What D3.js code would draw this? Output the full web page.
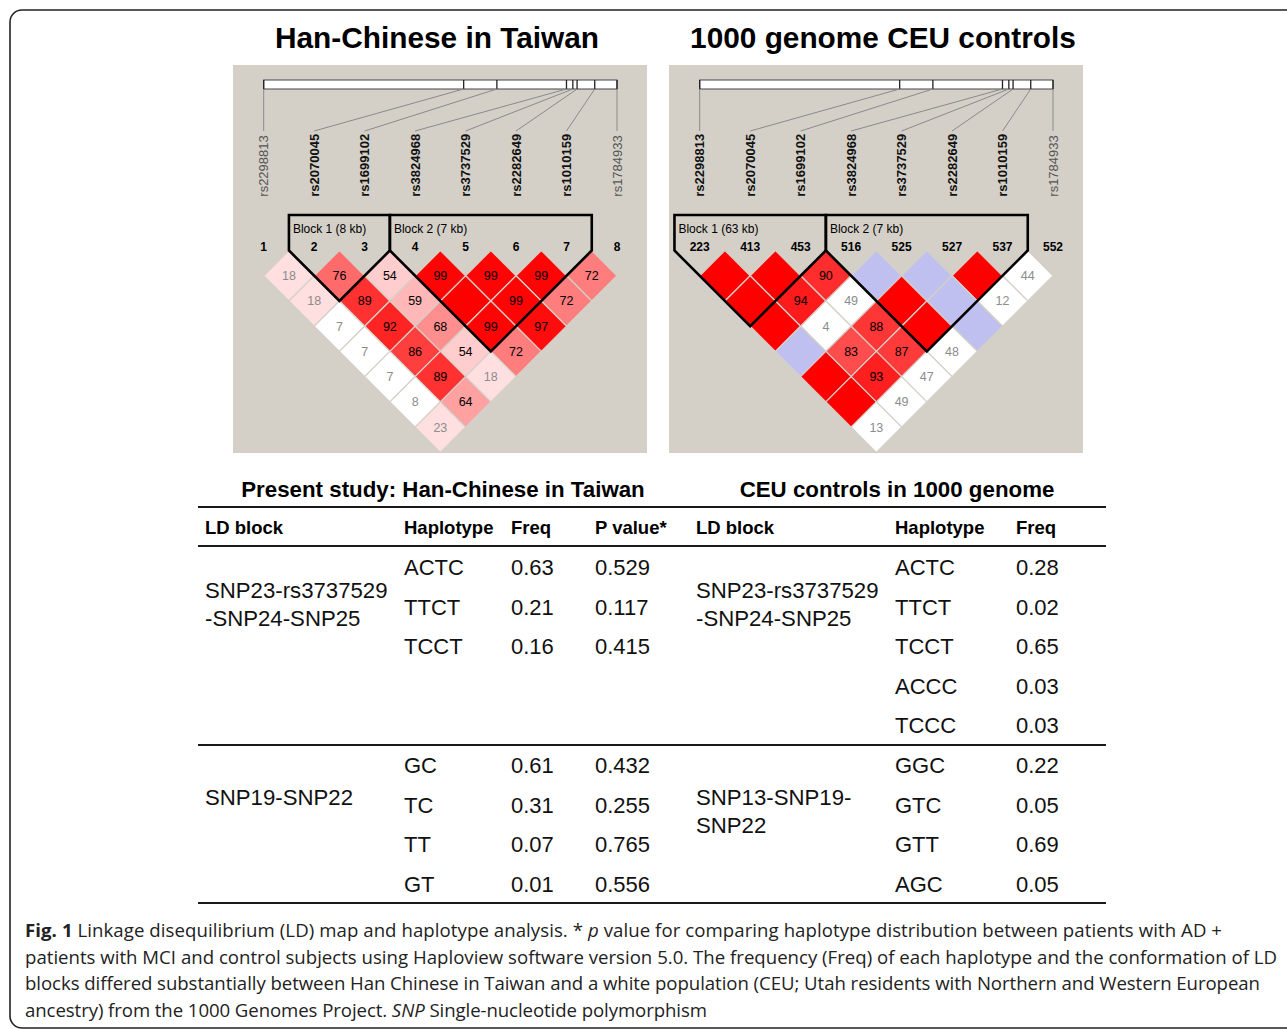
<!DOCTYPE html>
<html>
<head>
<meta charset="utf-8">
<script src="https://d3js.org/d3.v7.min.js"></script>
<style>
  body { margin: 0; background: #fff; }
  svg { display: block; }
</style>
</head>
<body>
<div class="chart"></div>
<script>
var svgWidth = 1287;
var svgHeight = 1029;

// SNP names (same 8 markers in both maps)
var snpNames = ["rs2298813", "rs2070045", "rs1699102", "rs3824968", "rs3737529", "rs2282649", "rs1010159", "rs1784933"];
// relative physical position of each SNP along the gene bar (%)
var snpPositions = [0, 56.6, 66.0, 85.7, 87.5, 88.7, 93.7, 100];

var hanMarkerLabels = ["1", "2", "3", "4", "5", "6", "7", "8"];
var ceuMarkerLabels = ["223", "413", "453", "516", "525", "527", "537", "552"];
var hanBoldSnp = [0, 1, 1, 1, 1, 1, 1, 0];
var ceuBoldSnp = [1, 1, 1, 1, 1, 1, 1, 0];

// D' x 100 for pairs (i, i+d), one row per distance d = 1..7 (100 = D' of 1, no number shown)
var hanDprime = [
  [18, 76, 54, 99, 99, 99, 72],
  [18, 89, 59, 100, 99, 72],
  [7, 92, 68, 99, 97],
  [7, 86, 54, 72],
  [7, 89, 18],
  [8, 64],
  [23]
];
// LOD >= 2 ?
var hanStrong = [
  [1, 1, 1, 1, 1, 1, 1],
  [1, 1, 1, 1, 1, 1],
  [0, 1, 1, 1, 1],
  [0, 1, 1, 1],
  [0, 1, 1],
  [0, 1],
  [1]
];
var ceuDprime = [
  [100, 100, 90, 100, 100, 100, 44],
  [100, 94, 49, 100, 100, 12],
  [100, 4, 88, 100, 100],
  [100, 83, 87, 48],
  [100, 93, 47],
  [100, 49],
  [13]
];
var ceuStrong = [
  [1, 1, 1, 0, 0, 1, 0],
  [1, 1, 0, 1, 0, 0],
  [1, 0, 1, 1, 0],
  [0, 1, 1, 0],
  [1, 1, 0],
  [1, 0],
  [0]
];

var hanBlocks = [[1, 2, "Block 1 (8 kb)"], [3, 6, "Block 2 (7 kb)"]];
var ceuBlocks = [[0, 2, "Block 1 (63 kb)"], [3, 6, "Block 2 (7 kb)"]];

// haplotype tables
var hanBlockNames = [["SNP23-rs3737529", "-SNP24-SNP25"], ["SNP19-SNP22"]];
var hanHaplotypes = [["ACTC", "TTCT", "TCCT"], ["GC", "TC", "TT", "GT"]];
var hanFreq = [["0.63", "0.21", "0.16"], ["0.61", "0.31", "0.07", "0.01"]];
var hanPvalue = [["0.529", "0.117", "0.415"], ["0.432", "0.255", "0.765", "0.556"]];

var ceuBlockNames = [["SNP23-rs3737529", "-SNP24-SNP25"], ["SNP13-SNP19-", "SNP22"]];
var ceuHaplotypes = [["ACTC", "TTCT", "TCCT", "ACCC", "TCCC"], ["GGC", "GTC", "GTT", "AGC"]];
var ceuFreq = [["0.28", "0.02", "0.65", "0.03", "0.03"], ["0.22", "0.05", "0.69", "0.05"]];

var captionLines = [
  [["Fig. 1", "b"], [" Linkage disequilibrium (LD) map and haplotype analysis. * ", ""], ["p", "i"], [" value for comparing haplotype distribution between patients with AD +", ""]],
  [["patients with MCI and control subjects using Haploview software version 5.0. The frequency (Freq) of each haplotype and the conformation of LD", ""]],
  [["blocks differed substantially between Han Chinese in Taiwan and a white population (CEU; Utah residents with Northern and Western European", ""]],
  [["ancestry) from the 1000 Genomes Project. ", ""], ["SNP", "i"], [" Single-nucleotide polymorphism", ""]]
];
var captionWidths = [1197, 1252, 1235, 682];

var svg = d3.select(".chart")
  .append("svg")
  .attr("width", svgWidth)
  .attr("height", svgHeight);

// figure frame
svg.append("rect")
  .attr("x", 10)
  .attr("y", 10)
  .attr("width", 1320)
  .attr("height", 1018)
  .attr("rx", 12)
  .attr("fill", "none")
  .attr("stroke", "#222")
  .attr("stroke-width", 1.6);

var bg = "#d4d0c8";
var fillScale = d3.scaleLinear()
  .domain([0.5, 1])
  .range(["#ffdfdf", "#ff0000"])
  .clamp(true);

// draws one Haploview-like LD plot
function drawLD(x0, title, titleX, markerLabels, boldSnp, dprime, strong, blocks) {
  svg.append("text")
    .attr("x", titleX)
    .attr("y", 48)
    .attr("text-anchor", "middle")
    .attr("font-family", "Liberation Sans, Arial, sans-serif")
    .attr("font-weight", "bold")
    .attr("font-size", "29.8px")
    .text(title);

  var g = svg.append("g").attr("transform", `translate(${x0}, 65)`);

  g.append("rect")
    .attr("width", 414)
    .attr("height", 388)
    .attr("fill", bg);

  var xMarker = d3.scalePoint()
    .domain(d3.range(markerLabels.length))
    .range([30.7, 384]);
  var h = xMarker.step() / 2;
  var xPhys = d3.scaleLinear()
    .domain([0, 100])
    .range([30.7, 384]);

  // gene bar
  g.append("rect")
    .attr("x", xPhys(0))
    .attr("y", 15)
    .attr("width", xPhys(100) - xPhys(0))
    .attr("height", 9)
    .attr("fill", "#fff")
    .attr("stroke", "#444")
    .attr("stroke-width", 1);

  g.selectAll(".tick-mark")
    .data(snpPositions)
    .enter()
    .append("line")
    .attr("x1", d => xPhys(d))
    .attr("x2", d => xPhys(d))
    .attr("y1", 15)
    .attr("y2", 24)
    .attr("stroke", "#222")
    .attr("stroke-width", 1.3);

  g.selectAll(".snp-link")
    .data(snpPositions)
    .enter()
    .append("line")
    .attr("x1", d => xPhys(d))
    .attr("y1", 24)
    .attr("x2", (d, i) => xMarker(i))
    .attr("y2", 66)
    .attr("stroke", "#8a8a8a")
    .attr("stroke-width", 1);

  g.selectAll(".snp-name")
    .data(snpNames)
    .enter()
    .append("text")
    .attr("transform", (d, i) => `translate(${xMarker(i)}, 131.7) rotate(-90)`)
    .attr("dy", "0.36em")
    .attr("font-family", "Liberation Sans, Arial, sans-serif")
    .attr("font-size", "13px")
    .attr("font-weight", (d, i) => boldSnp[i] ? "bold" : "normal")
    .attr("fill", (d, i) => boldSnp[i] ? "#111" : "#555")
    .text(d => d);

  // flatten the D' rows into cells
  var cells = [];
  dprime.forEach((row, r) => {
    row.forEach((v, i) => {
      cells.push({ i: i, j: i + r + 1, d: r + 1, v: v, strong: strong[r][i] });
    });
  });

  var yCell = d => 185.5 + d * h;

  g.selectAll(".cell")
    .data(cells)
    .enter()
    .append("path")
    .attr("d", c => {
      var cx = (xMarker(c.i) + xMarker(c.j)) / 2;
      var cy = yCell(c.d);
      return `M${cx},${cy - h}L${cx + h},${cy}L${cx},${cy + h}L${cx - h},${cy}Z`;
    })
    .attr("fill", c => c.strong ? fillScale(c.v / 100) : (c.v === 100 ? "#c0c0f0" : "#ffffff"))
    .attr("stroke", bg)
    .attr("stroke-width", 1.2);

  g.selectAll(".cell-text")
    .data(cells.filter(c => c.v < 100))
    .enter()
    .append("text")
    .attr("x", c => (xMarker(c.i) + xMarker(c.j)) / 2)
    .attr("y", c => yCell(c.d) + 4.4)
    .attr("text-anchor", "middle")
    .attr("font-family", "Liberation Sans, Arial, sans-serif")
    .attr("font-size", "12.5px")
    .attr("fill", c => c.v < 50 ? "#8c8c8c" : "#000")
    .text(c => c.v);

  // marker numbers
  g.selectAll(".marker-label")
    .data(markerLabels)
    .enter()
    .append("text")
    .attr("x", (d, i) => xMarker(i))
    .attr("y", 185.5)
    .attr("text-anchor", "middle")
    .attr("font-family", "Liberation Sans, Arial, sans-serif")
    .attr("font-size", "12px")
    .attr("font-weight", "bold")
    .text(d => d);

  // block outlines
  blocks.forEach(b => {
    var left = xMarker(b[0]) - h;
    var right = xMarker(b[1]) + h;
    var mid = (left + right) / 2;
    var bottom = 185.5 + (right - left) / 2;
    g.append("path")
      .attr("d", `M${left},150L${right},150L${right},185.5L${mid},${bottom}L${left},185.5Z`)
      .attr("fill", "none")
      .attr("stroke", "#000")
      .attr("stroke-width", 2.6)
      .attr("stroke-linejoin", "miter");
    g.append("text")
      .attr("x", left + 4)
      .attr("y", 168)
      .attr("font-family", "Liberation Sans, Arial, sans-serif")
      .attr("font-size", "12px")
      .text(b[2]);
  });
}

drawLD(233, "Han-Chinese in Taiwan", 437, hanMarkerLabels, hanBoldSnp, hanDprime, hanStrong, hanBlocks);
drawLD(669, "1000 genome CEU controls", 883, ceuMarkerLabels, ceuBoldSnp, ceuDprime, ceuStrong, ceuBlocks);

// ---------------- haplotype table ----------------
var font = "Liberation Sans, Arial, sans-serif";

svg.append("text")
  .attr("x", 443).attr("y", 497)
  .attr("text-anchor", "middle")
  .attr("font-family", font).attr("font-weight", "bold").attr("font-size", "22.3px")
  .text("Present study: Han-Chinese in Taiwan");
svg.append("text")
  .attr("x", 897).attr("y", 497)
  .attr("text-anchor", "middle")
  .attr("font-family", font).attr("font-weight", "bold").attr("font-size", "22.3px")
  .text("CEU controls in 1000 genome");

var rules = [[507, 2.2], [546, 2], [745, 2], [903, 2.2]];
svg.selectAll(".rule")
  .data(rules)
  .enter()
  .append("line")
  .attr("x1", 198).attr("x2", 1106)
  .attr("y1", d => d[0]).attr("y2", d => d[0])
  .attr("stroke", "#1a1a1a")
  .attr("stroke-width", d => d[1]);

var headers = [["LD block", 205], ["Haplotype", 404], ["Freq", 511], ["P value*", 595],
  ["LD block", 696], ["Haplotype", 895], ["Freq", 1016]];
svg.selectAll(".header")
  .data(headers)
  .enter()
  .append("text")
  .attr("x", d => d[1]).attr("y", 534)
  .attr("font-family", font).attr("font-weight", "bold").attr("font-size", "18.5px")
  .text(d => d[0]);

// row index -> baseline
var rowY = d3.scaleLinear().domain([0, 1]).range([575, 614.6]);
var blockStart = [0, 5];
var blockLabelY = [598, 805];

function drawColumn(values, x) {
  values.forEach((list, b) => {
    svg.append("g").selectAll("text")
      .data(list)
      .enter()
      .append("text")
      .attr("x", x)
      .attr("y", (d, k) => rowY(blockStart[b] + k))
      .attr("font-family", font).attr("font-size", "22px")
      .attr("fill", "#111")
      .text(d => d);
  });
}

function drawBlockNames(names, x) {
  names.forEach((lines, b) => {
    svg.append("g").selectAll("text")
      .data(lines)
      .enter()
      .append("text")
      .attr("x", x)
      .attr("y", (d, k) => blockLabelY[b] + k * 27.5)
      .attr("font-family", font).attr("font-size", "22.2px")
      .attr("fill", "#111")
      .text(d => d);
  });
}

drawBlockNames(hanBlockNames, 205);
drawColumn(hanHaplotypes, 404);
drawColumn(hanFreq, 511);
drawColumn(hanPvalue, 595);
drawBlockNames(ceuBlockNames, 696);
drawColumn(ceuHaplotypes, 895);
drawColumn(ceuFreq, 1016);

// ---------------- caption ----------------
var captionY = [937, 963.5, 990, 1016.5];
var cap = svg.append("g");
var baseSize = 16;
var capTexts = captionLines.map((parts, li) => {
  var t = cap.append("text")
    .attr("x", 25)
    .attr("y", captionY[li])
    .attr("font-family", "Open Sans, sans-serif")
    .attr("font-size", baseSize + "px")
    .attr("fill", "#222");
  parts.forEach(p => {
    t.append("tspan")
      .attr("font-weight", p[1] === "b" ? "bold" : null)
      .attr("font-style", p[1] === "i" ? "italic" : null)
      .text(p[0]);
  });
  return t;
});
// fit the font size to the full-width lines
var ratio = d3.mean([0, 1, 2], i => captionWidths[i] / capTexts[i].node().getComputedTextLength());
var size = baseSize * ratio;
capTexts.forEach((t, i) => {
  t.attr("font-size", size + "px")
    .attr("textLength", captionWidths[i])
    .attr("lengthAdjust", "spacing");
});
</script>
</body>
</html>
